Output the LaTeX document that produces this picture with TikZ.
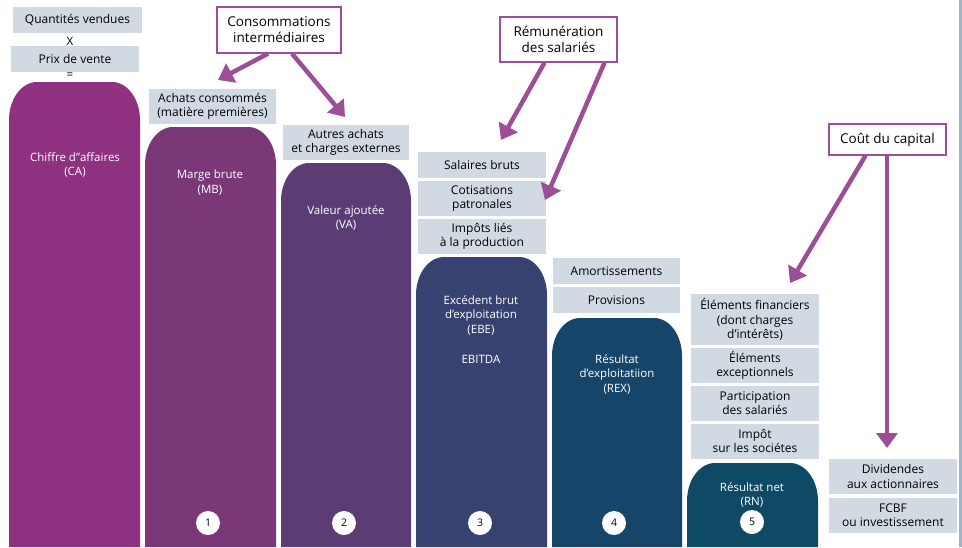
\documentclass[tikz,border=0pt]{standalone}
\usepackage{fontspec}
\setmainfont{Open Sans}
\usetikzlibrary{arrows.meta,positioning}
\definecolor{cacolor}{HTML}{8E3180}
\definecolor{mbcolor}{HTML}{7A3878}
\definecolor{vacolor}{HTML}{5B3C75}
\definecolor{ebecolor}{HTML}{374270}
\definecolor{rexcolor}{HTML}{17456A}
\definecolor{rncolor}{HTML}{0E4A66}
\definecolor{chargegray}{HTML}{D1DAE3}
\definecolor{flowpurple}{HTML}{9C4F96}
\definecolor{edgeblue}{HTML}{A3B3C6}
\newcommand{\balancebar}[4]{% left, right, top, colour
  \fill[#4] (#1,547) -- (#1,#3+38)
    arc[start angle=180,end angle=270,x radius=28,y radius=38] -- (#2-28,#3)
    arc[start angle=270,end angle=360,x radius=28,y radius=38] -- (#2,547) -- cycle;}
\tikzset{
  chargebox/.style={
    fill=chargegray,
    align=center,
    inner sep=0pt,
    minimum width=128pt,
    minimum height=35pt,
    font=\fontsize{12}{14.5}\selectfont
  },
  calloutbox/.style={
    draw=flowpurple,
    line width=1.2pt,
    fill=white,
    align=center,
    inner sep=0pt,
    font=\fontsize{13.5}{16}\selectfont
  },
  bartext/.style={
    text=white,
    align=center,
    font=\fontsize{11.5}{14.5}\selectfont
  },
  stepnumber/.style={
    circle,
    fill=white,
    inner sep=0pt,
    minimum size=24pt,
    font=\fontsize{10.5}{12}\selectfont
  },
  flowarrow/.style={-{Triangle[length=15pt,width=21pt]}, line width=4.5pt, draw=flowpurple}
}

\begin{document}
\begin{tikzpicture}[x=1pt,y=-1pt,node distance=2.5pt]
\useasboundingbox (0,0) rectangle (962,547);
\fill[edgeblue] (959,0) rectangle (962,547);

% the six balances
\balancebar{9}{140}{82}{cacolor}
\balancebar{145}{276}{127}{mbcolor}
\balancebar{281}{411}{163}{vacolor}
\balancebar{416}{547}{257}{ebecolor}
\balancebar{552}{682}{318}{rexcolor}
\balancebar{687}{818}{463}{rncolor}

\node[bartext] (ca) at (75,165) {Chiffre d”affaires\\(CA)};
\node[bartext] (mb) at (210,182.5) {Marge brute\\(MB)};
\node[bartext] (va) at (346,218) {Valeur ajoutée\\(VA)};
\node[bartext] (ebe) at (481,315) {Excédent brut\\d’exploitation\\(EBE)};
\node[bartext] (ebitda) at (481,359) {EBITDA};
\node[bartext] (rex) at (617,374) {Résultat\\d’exploitatiion\\(REX)};
\node[bartext] (rn) at (752,495) {Résultat net\\(RN)};

\node[stepnumber] (n1) at (208,523) {1};
\node[stepnumber] (n2) at (344,523) {2};
\node[stepnumber] (n3) at (480,523) {3};
\node[stepnumber] (n4) at (614,523) {4};
\node[stepnumber] (n5) at (752,522) {5};

% charges
\node[chargebox, minimum width=129pt, minimum height=26pt] (qty) at (77.5,20) {Quantités vendues};
\node[bartext, text=black] (times) at (70,41) {X};
\node[chargebox, minimum height=26pt] (price) at (75,59) {Prix de vente};
\node[bartext, text=black] (equals) at (70,76) {=};
\node[chargebox, minimum width=127pt] (achats) at (212.5,106.5) {Achats consommés\\(matière premières)};
\node[chargebox, minimum width=126pt] (autres) at (346,142.5) {Autres achats\\et charges externes};
\node[chargebox, minimum height=26pt] (salaires) at (482,165) {Salaires bruts};
\node[chargebox, below=of salaires] (cotis) {Cotisations\\patronales};
\node[chargebox, below=of cotis] (impots) {Impôts liés\\à la production};
\node[chargebox, minimum width=127pt, minimum height=26pt] (amort) at (616.5,271) {Amortissements};
\node[chargebox, minimum width=127pt, minimum height=26pt, below=of amort] (prov) {Provisions};
\node[chargebox, minimum height=51pt] (financ) at (755,319.5) {Éléments financiers\\(dont charges\\d’intérêts)};
\node[chargebox, below=of financ] (except) {Éléments\\exceptionnels};
\node[chargebox, below=of except] (partic) {Participation\\des salariés};
\node[chargebox, below=of partic] (impotis) {Impôt\\sur les sociétes};
\node[chargebox] (divid) at (893,476.5) {Dividendes\\aux actionnaires};
\node[chargebox, below=3.5pt of divid] (fcbf) {FCBF\\ou investissement};

% callouts
\node[calloutbox, minimum width=124pt, minimum height=46pt] (conso) at (279,30) {Consommations\\intermédiaires};
\node[calloutbox, minimum width=117pt, minimum height=45pt] (remun) at (558.5,39.5) {Rémunération\\des salariés};
\node[calloutbox, minimum width=117pt, minimum height=31pt] (capital) at (887.5,139.5) {Coût du capital};

\coordinate (tipachats) at (218,80);
\coordinate (tipautres) at (345,117);
\coordinate (tipsalaires) at (501,140);
\coordinate (tipcotis) at (545,200);
\coordinate (tipfinanc) at (790,283);
\coordinate (tipdivid) at (887,448);

\draw[flowarrow] ([xshift=-11pt]conso.south) -- (tipachats);
\draw[flowarrow] ([xshift=13pt]conso.south) -- (tipautres);
\draw[flowarrow] ([xshift=-14pt]remun.south) -- (tipsalaires);
\draw[flowarrow] ([xshift=46pt]remun.south) -- (tipcotis);
\draw[flowarrow] ([xshift=-22pt]capital.south) -- (tipfinanc);
\draw[flowarrow] ([xshift=-0.5pt]capital.south) -- (tipdivid);
\end{tikzpicture}
\end{document}
